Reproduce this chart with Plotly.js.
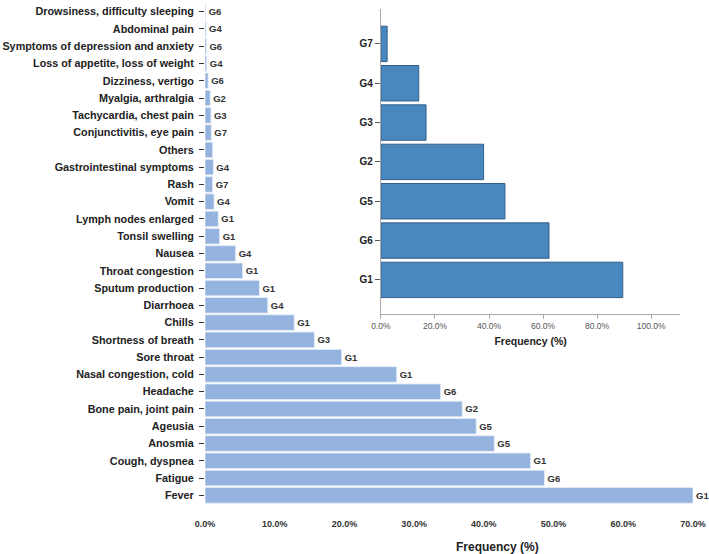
<!DOCTYPE html>
<html>
<head>
<meta charset="utf-8">
<script src="https://cdn.plot.ly/plotly-3.0.1.min.js"></script>
<style>html,body{margin:0;padding:0;background:#fff;}#chart{width:709px;height:554px;}</style>
</head>
<body>
<div id="chart"></div>
<script>
// Main chart: symptoms (bottom to top)
var symptoms = ["Fever","Fatigue","Cough, dyspnea","Anosmia","Ageusia","Bone pain, joint pain","Headache",
  "Nasal congestion, cold","Sore throat","Shortness of breath","Chills","Diarrhoea","Sputum production",
  "Throat congestion","Nausea","Tonsil swelling","Lymph nodes enlarged","Vomit","Rash",
  "Gastrointestinal symptoms","Others","Conjunctivitis, eye pain","Tachycardia, chest pain",
  "Myalgia, arthralgia","Dizziness, vertigo","Loss of appetite, loss of weight",
  "Symptoms of depression and anxiety","Abdominal pain","Drowsiness, difficulty sleeping"];
var symptomFreq = [70.0,48.7,46.7,41.5,38.9,36.9,33.8,27.5,19.6,15.7,12.8,9.0,7.8,5.4,4.4,2.1,1.9,1.3,1.1,
  1.2,1.1,0.9,0.85,0.75,0.45,0.25,0.2,0.15,0.1];
var symptomGroup = ["G1","G6","G1","G5","G5","G2","G6","G1","G1","G3","G1","G4","G1","G1","G4","G1","G1",
  "G4","G7","G4","","G7","G3","G2","G6","G4","G6","G4","G6"];
var mainTicks = [0,10,20,30,40,50,60,70];

// Inset chart: groups (bottom to top)
var groups = ["G1","G6","G5","G2","G3","G4","G7"];
var groupFreq = [89.5,62.2,45.9,38.0,16.7,14.0,2.3];
var insetTicks = [0,20,40,60,80,100];

var fontMain = "Liberation Sans, Arial, sans-serif";

var traces = [
  {
    type: "bar", orientation: "h",
    y: symptoms, x: symptomFreq,
    text: symptomGroup, textposition: "outside", cliponaxis: false,
    textfont: {family: fontMain, size: 9.5, color: "#333", weight: "bold"},
    marker: {color: "#95b3df", line: {color: "#e6edf7", width: 0.8}},
    xaxis: "x", yaxis: "y", hoverinfo: "skip"
  },
  {
    type: "bar", orientation: "h",
    y: groups, x: groupFreq,
    marker: {color: "#4a87bf", line: {color: "#2f5f8a", width: 1}},
    xaxis: "x2", yaxis: "y2", hoverinfo: "skip"
  }
];

var layout = {
  width: 709, height: 554,
  margin: {l: 205, r: 16, t: 3, b: 50},
  paper_bgcolor: "#fff", plot_bgcolor: "rgba(0,0,0,0)",
  showlegend: false,
  bargap: 0.1,
  font: {family: fontMain, color: "#222"},
  xaxis: {
    domain: [0, 1], range: [0, 70], tickvals: mainTicks,
    ticktext: mainTicks.map(function(v){return v.toFixed(1)+"%";}),
    showgrid: false, zeroline: false, showline: false, ticks: "",
    ticklabelstandoff: 13,
    tickfont: {family: fontMain, size: 9, color: "#333", weight: "bold"},
    anchor: "y"
  },
  yaxis: {
    domain: [0, 1], range: [-0.5, 28.5], type: "category",
    showgrid: false, zeroline: false, showline: false,
    ticks: "outside", ticklen: 5, tickcolor: "#333", tickwidth: 1,
    tickfont: {family: fontMain, size: 10.8, color: "#222", weight: "bold"},
    ticklabelstandoff: 3,
    anchor: "x"
  },
  xaxis2: {
    domain: [0.3605, 0.974], range: [0, 110.8], tickvals: insetTicks,
    ticktext: insetTicks.map(function(v){return v.toFixed(1)+"%";}),
    showgrid: false, zeroline: false, showline: true, linecolor: "#aaa", linewidth: 1,
    ticks: "outside", ticklen: 4, tickcolor: "#aaa",
    tickfont: {family: fontMain, size: 8.5, color: "#555"},
    title: {text: "Frequency (%)", font: {family: fontMain, size: 10.5, color: "#222", weight: "bold"}, standoff: 7},
    anchor: "y2"
  },
  yaxis2: {
    domain: [0.379, 0.989], range: [-0.87, 6.9], type: "category",
    showgrid: false, zeroline: false, showline: true, linecolor: "#aaa", linewidth: 1,
    ticks: "outside", ticklen: 5, tickcolor: "#555",
    tickfont: {family: fontMain, size: 10, color: "#222", weight: "bold"},
    anchor: "x2"
  },
  annotations: [
    {text: "Frequency (%)", xref: "paper", yref: "paper", x: 0.599, y: -0.085,
     xanchor: "center", yanchor: "middle", showarrow: false,
     font: {family: fontMain, size: 12, color: "#222", weight: "bold"}}
  ]
};

Plotly.newPlot("chart", traces, layout, {displayModeBar: false, staticPlot: true});
</script>
</body>
</html>
